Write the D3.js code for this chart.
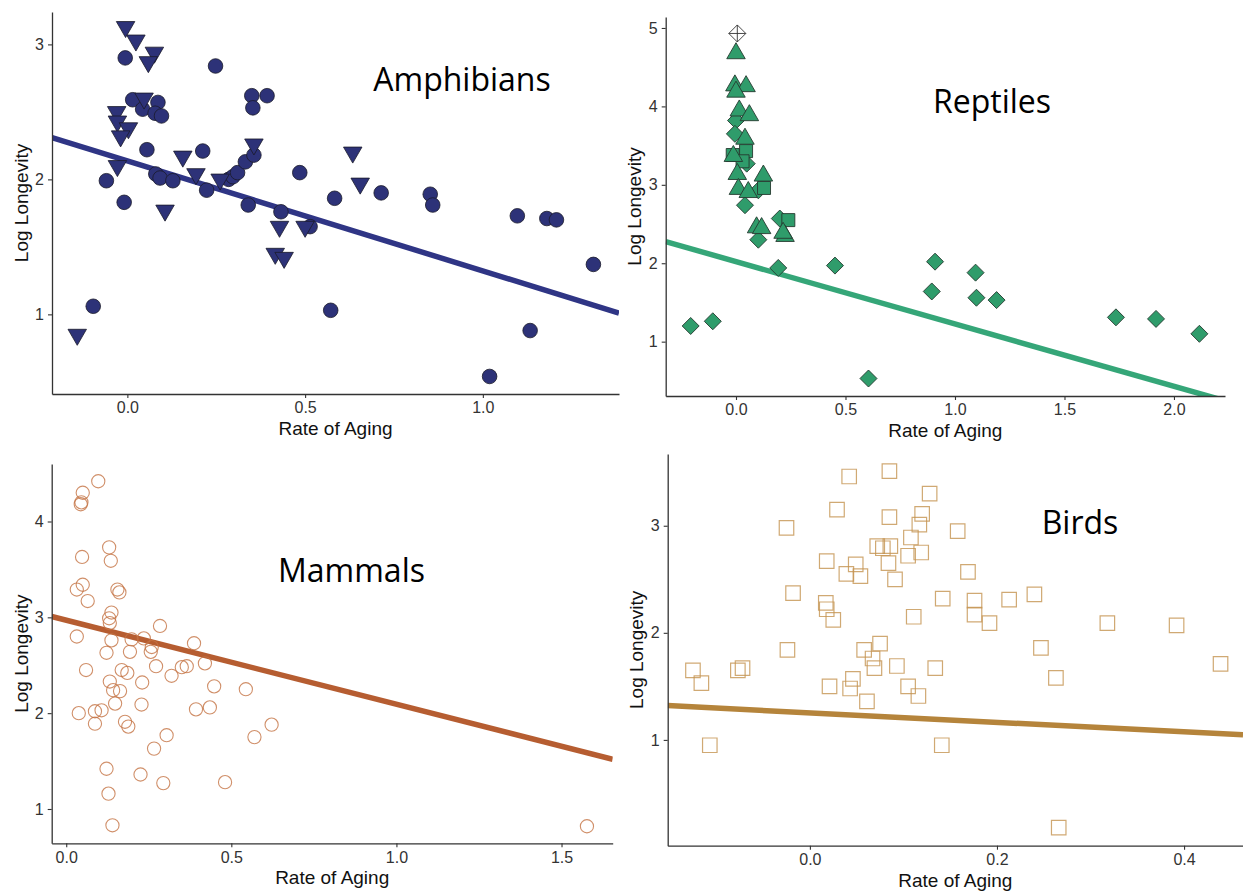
<!DOCTYPE html>
<html><head><meta charset="utf-8">
<script src="https://cdn.jsdelivr.net/npm/d3@7"></script>
<style>body{margin:0;background:#fff} svg{display:block}</style>
</head><body>
<svg id="chart" width="1243" height="894"></svg>
<script>
// ---------------- DATA ----------------
const panelNames = ["Amphibians", "Reptiles", "Mammals", "Birds"];
const axisTitleX = "Rate of Aging";
const axisTitleY = "Log Longevity";

const amphibiansCircles = [[-0.006,2.90],[0.015,2.59],[0.043,2.52],[0.086,2.57],[0.078,2.49],[0.096,2.47],[0.055,2.22],[-0.059,1.99],[-0.009,1.83],[0.080,2.04],[0.092,2.01],[0.128,1.99],[0.223,1.92],[0.212,2.21],[0.248,2.84],[0.285,2.00],[0.297,2.02],[0.310,2.05],[0.332,2.13],[0.356,2.18],[0.350,2.62],[0.353,2.53],[0.393,2.62],[0.340,1.81],[0.432,1.76],[0.485,2.05],[0.514,1.65],[0.583,1.86],[0.714,1.90],[0.852,1.89],[0.859,1.81],[1.097,1.73],[1.180,1.71],[1.207,1.70],[1.311,1.37],[0.572,1.03],[1.133,0.88],[1.019,0.54],[-0.096,1.06]];
const amphibiansTriangles = [[-0.005,3.11],[0.024,3.01],[0.076,2.92],[0.059,2.85],[-0.030,2.48],[-0.028,2.41],[0.003,2.36],[-0.019,2.30],[-0.028,2.08],[0.047,2.58],[0.156,2.15],[0.193,2.02],[0.261,1.98],[0.356,2.24],[0.106,1.75],[0.634,2.18],[0.655,1.95],[-0.141,0.83],[0.428,1.63],[0.416,1.43],[0.441,1.40],[0.500,1.63]];
const amphibiansFit = [2.137, -0.815]; // intercept, slope

const reptilesDiamonds = [[-0.207,1.20],[-0.106,1.26],[0.605,0.53],[0.452,1.97],[0.193,1.94],[0.102,2.30],[0.200,2.57],[0.041,2.74],[0.894,1.64],[0.909,2.02],[1.094,1.88],[1.098,1.56],[1.190,1.53],[1.735,1.31],[1.918,1.29],[2.116,1.10],[0.000,3.82],[-0.005,3.65],[0.049,3.27],[0.102,2.93]];
const reptilesSquares = [[-0.015,3.38],[0.046,3.43],[0.030,3.30],[0.128,2.96],[0.239,2.55]];
const reptilesTriangles = [[0.000,4.71],[-0.005,4.30],[0.046,4.29],[0.000,4.22],[0.015,3.98],[0.061,3.92],[0.041,3.62],[-0.012,3.40],[0.006,3.17],[0.125,3.15],[0.011,2.98],[0.056,2.94],[0.094,2.49],[0.117,2.48],[0.224,2.38],[0.215,2.42]];
const reptilesOpen = [[0.006,4.93]];
const reptilesFit = [2.021, -0.795];

const mammalsCircles = [[0.097,4.42],[0.050,4.30],[0.044,4.18],[0.046,4.20],[0.048,3.63],[0.130,3.73],[0.135,3.59],[0.050,3.34],[0.032,3.29],[0.065,3.17],[0.155,3.29],[0.161,3.26],[0.137,3.05],[0.130,2.99],[0.132,2.94],[0.284,2.91],[0.032,2.80],[0.137,2.76],[0.198,2.77],[0.235,2.78],[0.259,2.69],[0.387,2.73],[0.122,2.63],[0.193,2.64],[0.256,2.64],[0.420,2.52],[0.060,2.45],[0.132,2.33],[0.168,2.45],[0.185,2.42],[0.272,2.49],[0.319,2.39],[0.350,2.48],[0.365,2.49],[0.230,2.32],[0.142,2.24],[0.163,2.23],[0.148,2.10],[0.228,2.09],[0.448,2.28],[0.544,2.25],[0.038,2.00],[0.087,2.02],[0.107,2.03],[0.087,1.89],[0.178,1.91],[0.188,1.86],[0.393,2.04],[0.435,2.06],[0.622,1.88],[0.570,1.75],[0.304,1.77],[0.266,1.63],[0.122,1.42],[0.225,1.36],[0.294,1.27],[0.481,1.28],[0.128,1.16],[0.140,0.83],[1.577,0.82]];
const mammalsFit = [2.97, -0.877];

const birdsSquares = [[-0.125,1.65],[-0.116,1.53],[-0.107,0.95],[-0.077,1.65],[-0.072,1.67],[-0.025,2.98],[-0.018,2.37],[-0.024,1.84],[0.018,2.67],[0.017,2.28],[0.018,2.22],[0.025,2.12],[0.029,3.15],[0.042,3.46],[0.021,1.50],[0.039,2.55],[0.049,2.64],[0.054,2.53],[0.043,1.48],[0.046,1.57],[0.061,1.36],[0.058,1.84],[0.067,1.76],[0.069,1.67],[0.075,1.90],[0.085,3.51],[0.085,3.08],[0.072,2.81],[0.078,2.79],[0.086,2.81],[0.084,2.65],[0.091,2.50],[0.093,1.69],[0.108,2.89],[0.105,2.72],[0.119,2.75],[0.117,3.01],[0.120,3.11],[0.128,3.30],[0.111,2.15],[0.105,1.50],[0.116,1.41],[0.134,1.67],[0.141,0.95],[0.142,2.32],[0.158,2.95],[0.169,2.57],[0.176,2.30],[0.176,2.17],[0.192,2.09],[0.213,2.31],[0.240,2.36],[0.247,1.86],[0.263,1.58],[0.266,0.18],[0.318,2.09],[0.392,2.07],[0.439,1.71]];
const birdsFit = [1.253, -0.444];

const amphibiansXTicks = [0, 0.5, 1.0];
const amphibiansYTicks = [1, 2, 3];
const reptilesXTicks = [0, 0.5, 1.0, 1.5, 2.0];
const reptilesYTicks = [1, 2, 3, 4, 5];
const mammalsXTicks = [0, 0.5, 1.0, 1.5];
const mammalsYTicks = [1, 2, 3, 4];
const birdsXTicks = [0, 0.2, 0.4];
const birdsYTicks = [1, 2, 3];

// ---------------- LAYOUT / STYLE ----------------
const svg = d3.select("#chart");
const fmt = d3.format(".1f");

function triDown(s){ const h=s*Math.sqrt(3)/2; return `M${-s/2},${-h/2}L${s/2},${-h/2}L0,${h/2}Z`; }
function triUp(s){ const h=s*Math.sqrt(3)/2; return `M${-s/2},${h/2}L${s/2},${h/2}L0,${-h/2}Z`; }
function diamond(d){ return `M0,${-d}L${d},0L0,${d}L${-d},0Z`; }
function square(a){ return `M${-a/2},${-a/2}h${a}v${a}h${-a}Z`; }
function circle(r){ return d3.symbol(d3.symbolCircle, Math.PI*r*r)(); }

const panels = [
  { name: panelNames[0], rect:[52,619,12,394], xd:[-0.212,1.383], yd:[0.41,3.24], xt:amphibiansXTicks, yt:amphibiansYTicks,
    fit: amphibiansFit, lineColor:"#2f3585", titlePos:[462,90.5], yTitleX:28,
    layers:[
      {data:amphibiansCircles, path:circle(7.3), fill:"#2d3278", stroke:"#1a1a2a", sw:0.8},
      {data:amphibiansTriangles, path:triDown(18.5), fill:"#2d3278", stroke:"#1a1a2a", sw:0.8}
    ]},
  { name: panelNames[1], rect:[665.7,1225,17,396], xd:[-0.321,2.233], yd:[0.307,5.14], xt:reptilesXTicks, yt:reptilesYTicks,
    fit: reptilesFit, lineColor:"#35a678", titlePos:[992,113], yTitleX:641,
    layers:[
      {data:reptilesDiamonds, path:diamond(8.5), fill:"#2f9c6b", stroke:"#263a30", sw:0.9},
      {data:reptilesSquares, path:square(13), fill:"#2f9c6b", stroke:"#263a30", sw:0.9},
      {data:reptilesTriangles, path:triUp(18.5), fill:"#2f9c6b", stroke:"#263a30", sw:0.9},
      {data:reptilesOpen, path:diamond(8.5)+"M0,-8.5V8.5M-8.5,0H8.5", fill:"#ffffff", stroke:"#333", sw:0.9}
    ]},
  { name: panelNames[2], rect:[51.7,612.7,464,843.3], xd:[-0.044,1.655], yd:[0.642,4.6], xt:mammalsXTicks, yt:mammalsYTicks,
    fit: mammalsFit, lineColor:"#b65d31", titlePos:[351.5,581.5], yTitleX:28,
    layers:[
      {data:mammalsCircles, path:circle(6.6), fill:"none", stroke:"#c47344", sw:1.1, so:0.8}
    ]},
  { name: panelNames[3], rect:[667.7,1243,454,845.7], xd:[-0.152,0.463], yd:[0.012,3.67], xt:birdsXTicks, yt:birdsYTicks,
    fit: birdsFit, lineColor:"#b5843b", titlePos:[1080,534], yTitleX:643,
    layers:[
      {data:birdsSquares, path:square(14.5), fill:"none", stroke:"#c49350", sw:1.2, so:0.8}
    ]}
];

panels.forEach((p, i) => {
  const [l, r, t, b] = p.rect;
  const x = d3.scaleLinear().domain(p.xd).range([l, r]);
  const y = d3.scaleLinear().domain(p.yd).range([b, t]);
  const g = svg.append("g");

  const clipId = "clip" + i;
  svg.append("clipPath").attr("id", clipId).append("rect")
    .attr("x", l).attr("y", t).attr("width", r - l).attr("height", b - t);

  // regression line
  const [a, s] = p.fit;
  const line = d3.line().x(d => x(d)).y(d => y(a + s * d));
  g.append("path").datum(p.xd).attr("d", line)
    .attr("clip-path", `url(#${clipId})`)
    .attr("fill", "none").attr("stroke", p.lineColor).attr("stroke-width", 5.5);

  // points
  p.layers.forEach(L => {
    g.append("g").selectAll("path").data(L.data).join("path")
      .attr("d", L.path)
      .attr("transform", d => `translate(${x(d[0])},${y(d[1])})`)
      .attr("fill", L.fill).attr("stroke", L.stroke)
      .attr("stroke-width", L.sw).attr("stroke-opacity", L.so || 1);
  });

  // axes
  const ax = g.append("g").attr("transform", `translate(0,${b})`)
    .call(d3.axisBottom(x).tickValues(p.xt).tickFormat(fmt).tickSize(4).tickPadding(4).tickSizeOuter(0));
  const ay = g.append("g").attr("transform", `translate(${l},0)`)
    .call(d3.axisLeft(y).tickValues(p.yt).tickFormat(d3.format("d")).tickSize(4).tickPadding(4).tickSizeOuter(0));
  [ax, ay].forEach(A => {
    A.select(".domain").attr("stroke", "#333").attr("stroke-width", 1.3);
    A.selectAll(".tick line").attr("stroke", "#333").attr("stroke-width", 1.1);
    A.selectAll(".tick text").attr("fill", "#333").attr("font-family", "Liberation Sans, Arial, sans-serif").attr("font-size", 16);
  });

  // axis titles
  g.append("text").attr("x", (l + r) / 2).attr("y", b + 41)
    .attr("text-anchor", "middle").attr("font-family", "Liberation Sans, Arial, sans-serif")
    .attr("font-size", 19).attr("fill", "#111").text(axisTitleX);
  g.append("text").attr("transform", `translate(${p.yTitleX},${(t + b) / 2}) rotate(-90)`)
    .attr("text-anchor", "middle").attr("font-family", "Liberation Sans, Arial, sans-serif")
    .attr("font-size", 19).attr("fill", "#111").text(axisTitleY);

  // panel label
  g.append("text").attr("x", p.titlePos[0]).attr("y", p.titlePos[1])
    .attr("text-anchor", "middle").attr("font-family", "Open Sans, sans-serif")
    .attr("font-size", 32).attr("fill", "#000").text(p.name);
});
</script>
</body></html>
